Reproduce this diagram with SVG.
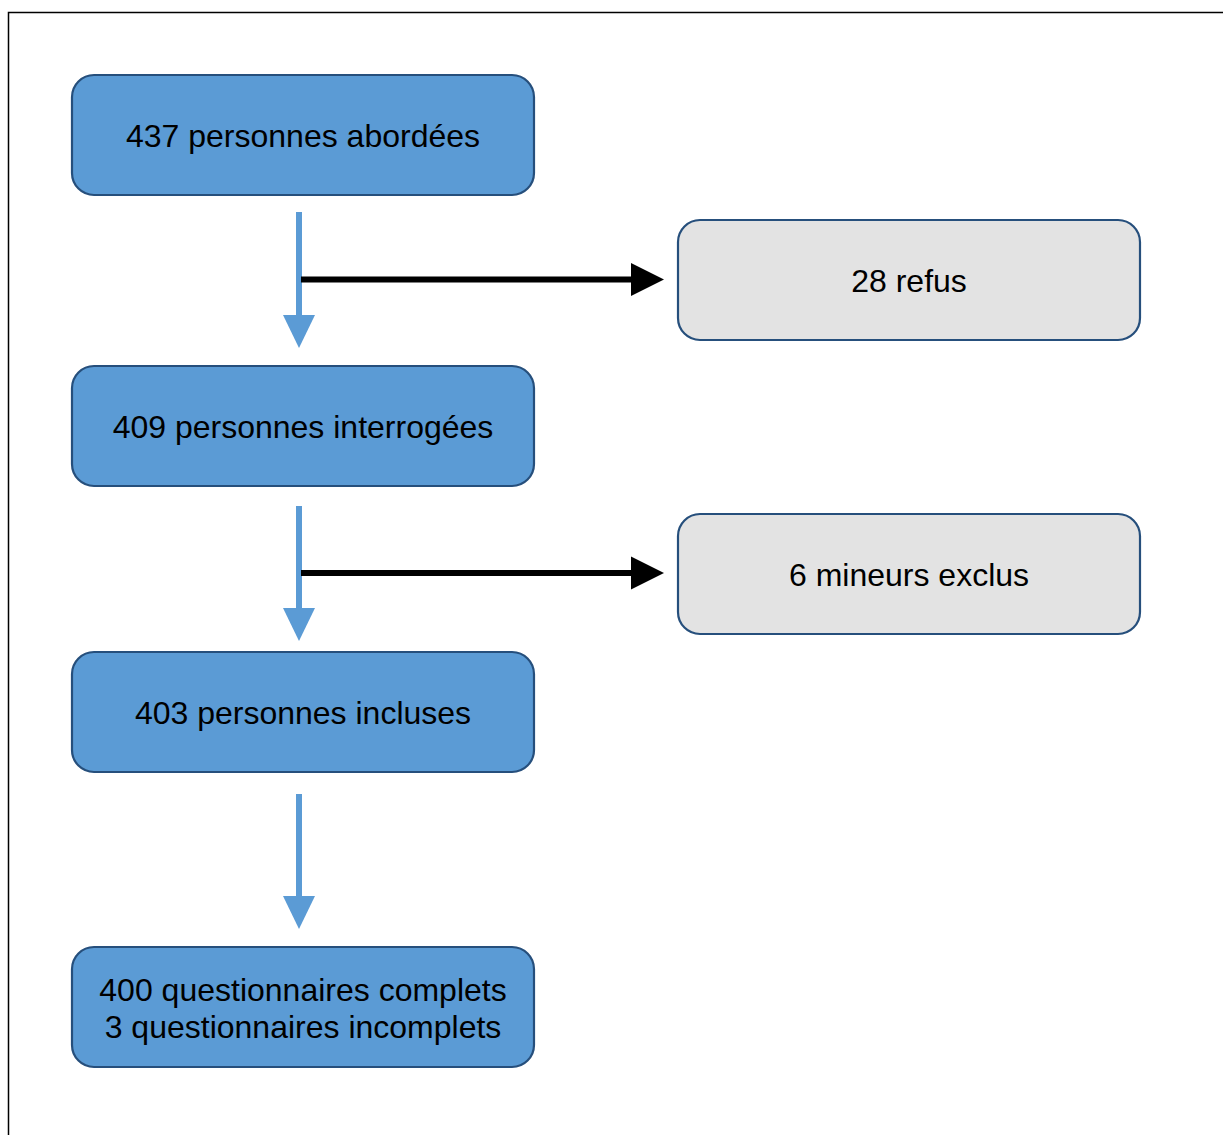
<svg xmlns="http://www.w3.org/2000/svg" width="1223" height="1135" viewBox="0 0 1223 1135">
<style>
.blue{fill:#5B9BD5;stroke:#264F7C;stroke-width:2.2}
.grey{fill:#E3E3E3;stroke:#264F7C;stroke-width:2.2}
text{font-family:"Liberation Sans",Arial,sans-serif;font-size:32px;fill:#000;text-anchor:middle}
.down{stroke:#5B9BD5;stroke-width:6;fill:none}
.side{stroke:#000;stroke-width:6;fill:none}
</style>
<rect width="1223" height="1135" fill="#fff"/>
<rect x="8.5" y="12.5" width="1230" height="1140" fill="none" stroke="#000" stroke-width="1.5"/>
<g id="connectors">
<line class="down" x1="299" y1="212" x2="299" y2="317"/>
<polygon points="283,315 315,315 299,348" fill="#5B9BD5"/>
<line class="side" x1="301" y1="279.5" x2="633" y2="279.5"/>
<polygon points="631,263 664,279.5 631,296" fill="#000"/>
<line class="down" x1="299" y1="506" x2="299" y2="610"/>
<polygon points="283,608 315,608 299,641" fill="#5B9BD5"/>
<line class="side" x1="301" y1="573" x2="633" y2="573"/>
<polygon points="631,556.5 664,573 631,589.5" fill="#000"/>
<line class="down" x1="299" y1="794" x2="299" y2="898"/>
<polygon points="283,896 315,896 299,929" fill="#5B9BD5"/>
</g>
<g id="n1"><rect class="blue" x="72" y="75" width="462" height="120" rx="22"/><text x="303" y="147">437 personnes abordées</text></g>
<g id="n2"><rect class="grey" x="678" y="220" width="462" height="120" rx="22"/><text x="909" y="292">28 refus</text></g>
<g id="n3"><rect class="blue" x="72" y="366" width="462" height="120" rx="22"/><text x="303" y="438">409 personnes interrogées</text></g>
<g id="n4"><rect class="grey" x="678" y="514" width="462" height="120" rx="22"/><text x="909" y="586">6 mineurs exclus</text></g>
<g id="n5"><rect class="blue" x="72" y="652" width="462" height="120" rx="22"/><text x="303" y="724">403 personnes incluses</text></g>
<g id="n6"><rect class="blue" x="72" y="947" width="462" height="120" rx="22"/><text x="303" y="1001">400 questionnaires complets</text><text x="303" y="1038">3 questionnaires incomplets</text></g>
</svg>
